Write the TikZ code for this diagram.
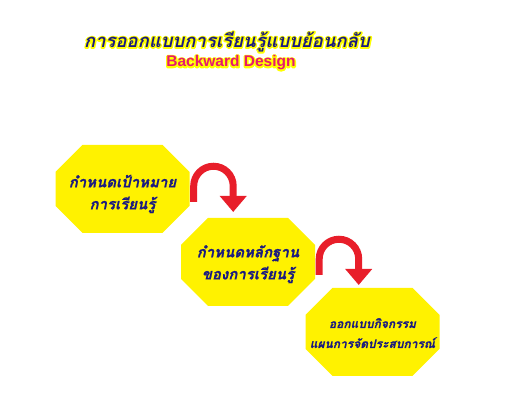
\documentclass[tikz,border=0pt]{standalone}
\usepackage{fontspec}
\usetikzlibrary{arrows.meta}
\newfontfamily\thaifont[Script=Thai]{Loma}
\newfontfamily\thaiheavy[Script=Thai,FakeBold=0.8]{Loma}
\newfontfamily\latinbold{Liberation Sans}
\definecolor{octyellow}{RGB}{255,242,0}
\definecolor{inknavy}{RGB}{26,26,128}
\definecolor{titlepink}{RGB}{230,25,110}
\definecolor{turnred}{RGB}{232,30,42}
% text with a thin yellow halo
\newcommand\halotext[2]{\leavevmode\rlap{\special{pdf:literal direct 1 Tr 2.8 w 1 1 0 RG 1 j}#2\special{pdf:literal direct 0 Tr}}\textcolor{#1}{#2}}
% two lines, set a little below the middle of the box
\newcommand\sunk[2]{\raisebox{-#1}[\height][\depth]{\begin{tabular}{@{}c@{}}#2\end{tabular}}}
\tikzset{
  stepbox/.style={rectangle, inner sep=0pt, text=inknavy,
    minimum width=134pt, minimum height=88pt,
    path picture={\fill[octyellow]
      ([xshift=27pt]path picture bounding box.north west) --
      ([xshift=-27pt]path picture bounding box.north east) --
      ([yshift=-27pt]path picture bounding box.north east) --
      ([yshift=27pt]path picture bounding box.south east) --
      ([xshift=-27pt]path picture bounding box.south east) --
      ([xshift=27pt]path picture bounding box.south west) --
      ([yshift=27pt]path picture bounding box.south west) --
      ([yshift=-27pt]path picture bounding box.north west) -- cycle;}},
  uturn/.style={draw=turnred, line width=7pt,
    -{Triangle[width=26pt,length=16pt]}}
}

\begin{document}
\begin{tikzpicture}[x=1pt,y=1pt]
  \useasboundingbox (0,0) rectangle (528,411);

  % heading
  \node (title) at (227,369)
    {\thaifont\bfseries\itshape\fontsize{18.5}{20}\selectfont
     \halotext{inknavy}{การออกแบบการเรียนรู้แบบย้อนกลับ}};
  \node (subtitle) at (231,348)
    {\latinbold\bfseries\fontsize{15.5}{18}\selectfont
     \halotext{titlepink}{Backward Design}};

  % the three stages
  \node[stepbox, font=\thaiheavy\bfseries\itshape\fontsize{15}{22}\selectfont]
    (goal) at (122.5,222) {\sunk{5pt}{กำหนดเป้าหมาย\\การเรียนรู้}};
  \node[stepbox, font=\thaiheavy\bfseries\itshape\fontsize{15}{22}\selectfont]
    (evidence) at (248,149) {\sunk{2pt}{กำหนดหลักฐาน\\ของการเรียนรู้}};
  \node[stepbox, font=\thaiheavy\bfseries\itshape\fontsize{12}{20}\selectfont]
    (activity) at (372.5,79) {\sunk{2pt}{ออกแบบกิจกรรม\\แผนการจัดประสบการณ์}};

  % turning arrows
  \draw[uturn] ([xshift=4pt,yshift=-13pt]goal.east) -- ++(0,16)
    arc[start angle=180,end angle=0,radius=19.75] -- ++(0,-26);
  \draw[uturn] ([xshift=4pt,yshift=-13pt]evidence.east) -- ++(0,16)
    arc[start angle=180,end angle=0,radius=19.75] -- ++(0,-26);
\end{tikzpicture}
\end{document}
